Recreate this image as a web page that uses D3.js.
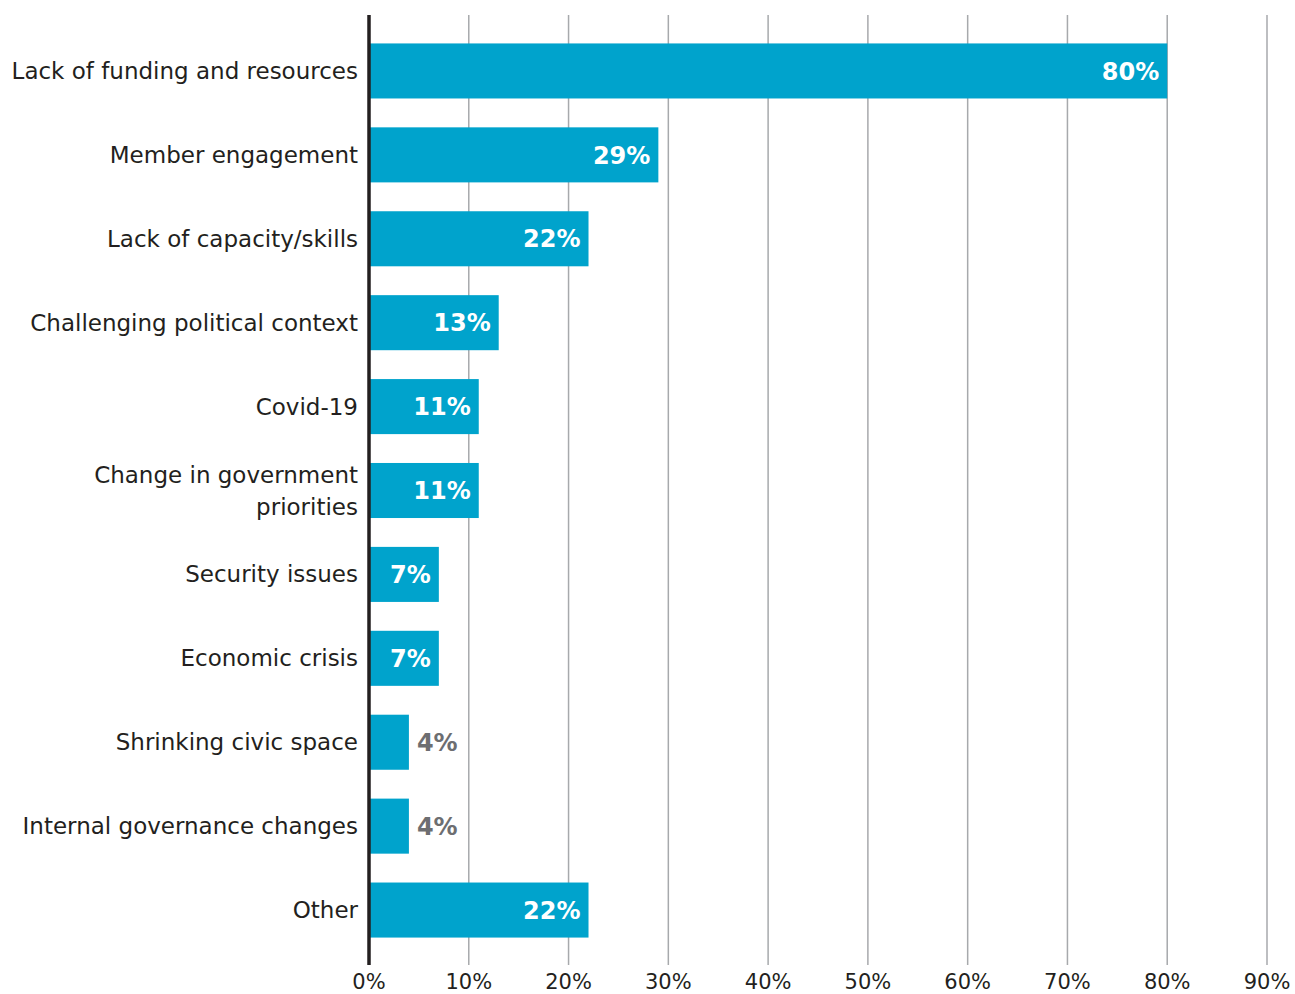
<!DOCTYPE html>
<html>
<head>
<meta charset="utf-8">
<script src="https://d3js.org/d3.v7.min.js"></script>
<style>
body { margin: 0; background: #fff; }
text { font-family: "DejaVu Sans", sans-serif; }
</style>
</head>
<body>
<div id="main"></div>
<script>
var width = 1295;
var height = 994;

var categories = [
    ['Lack of funding and resources'],
    ['Member engagement'],
    ['Lack of capacity/skills'],
    ['Challenging political context'],
    ['Covid-19'],
    ['Change in government', 'priorities'],
    ['Security issues'],
    ['Economic crisis'],
    ['Shrinking civic space'],
    ['Internal governance changes'],
    ['Other']
];
var values = [80, 29, 22, 13, 11, 11, 7, 7, 4, 4, 22];
var ticks = [0, 10, 20, 30, 40, 50, 60, 70, 80, 90];

var x0 = 369, x90 = 1267;
var yTop = 29, yBottom = 952;
var lineH = 32;

var svg = d3.select('#main').append('svg')
    .attr('width', width)
    .attr('height', height);

var xScale = d3.scaleLinear().domain([0, 90]).range([x0, x90]);
var yScale = d3.scaleBand()
    .domain(d3.range(values.length))
    .range([yTop, yBottom])
    .paddingInner(0.344)
    .paddingOuter(0.172);

// grid
svg.append('g').selectAll('line')
    .data(ticks.slice(1))
    .enter().append('line')
    .attr('x1', function(d) { return xScale(d); })
    .attr('x2', function(d) { return xScale(d); })
    .attr('y1', 15)
    .attr('y2', 965)
    .style('stroke', '#a7a9ac')
    .style('stroke-width', 1.5);

// bars
svg.append('g').selectAll('rect')
    .data(values)
    .enter().append('rect')
    .attr('x', xScale(0))
    .attr('y', function(d, i) { return yScale(i); })
    .attr('width', function(d) { return xScale(d) - xScale(0); })
    .attr('height', yScale.bandwidth())
    .style('fill', '#00a3cc');

// axis line
svg.append('line')
    .attr('x1', x0).attr('x2', x0)
    .attr('y1', 15).attr('y2', 965)
    .style('stroke', '#231f20')
    .style('stroke-width', 3.5);

// value labels
svg.append('g').selectAll('text')
    .data(values)
    .enter().append('text')
    .attr('x', function(d) { return d > 5 ? xScale(d) - 8 : xScale(d) + 8; })
    .attr('y', function(d, i) { return yScale(i) + yScale.bandwidth() / 2; })
    .attr('dy', '0.36em')
    .attr('text-anchor', function(d) { return d > 5 ? 'end' : 'start'; })
    .style('font-size', '24px')
    .style('font-weight', 'bold')
    .style('fill', function(d) { return d > 5 ? '#fff' : '#6d6e71'; })
    .text(function(d) { return d + '%'; });

// category labels
var catLabels = svg.append('g').selectAll('text')
    .data(categories)
    .enter().append('text')
    .attr('text-anchor', 'end')
    .style('font-size', '23px')
    .style('fill', '#231f20')
    .attr('y', function(d, i) { return yScale(i) + yScale.bandwidth() / 2 - (d.length - 1) * lineH / 2 + 8; });

catLabels.selectAll('tspan')
    .data(function(d) { return d; })
    .enter().append('tspan')
    .attr('x', 358)
    .attr('dy', function(d, i) { return i === 0 ? 0 : lineH; })
    .text(function(d) { return d; });

// x tick labels
svg.append('g').selectAll('text')
    .data(ticks)
    .enter().append('text')
    .attr('x', function(d) { return xScale(d); })
    .attr('y', 989)
    .attr('text-anchor', 'middle')
    .style('font-size', '21px')
    .style('fill', '#231f20')
    .text(function(d) { return d + '%'; });
</script>
</body>
</html>
